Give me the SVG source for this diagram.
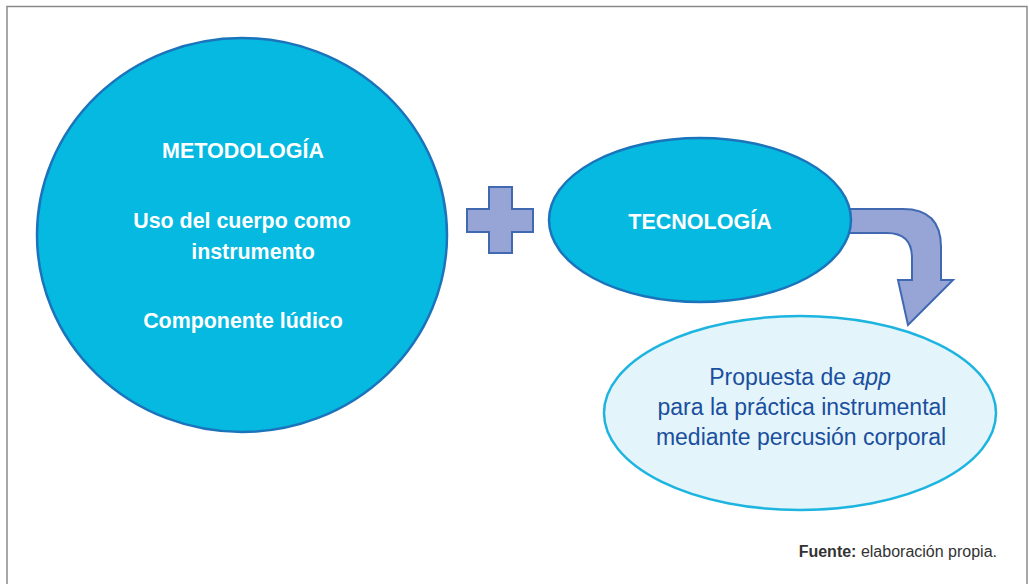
<svg xmlns="http://www.w3.org/2000/svg" width="1029" height="584" viewBox="0 0 1029 584">
<style>
.node{fill:#05b9e0;stroke:#1b74bb;stroke-width:2.5}
.wt{font-family:"Liberation Sans",Arial,sans-serif;font-weight:bold;fill:#ffffff;text-anchor:middle}
.bt{font-family:"Liberation Sans",Arial,sans-serif;fill:#1a4f9e;text-anchor:middle;font-size:23px}
.conn{fill:#97a5d6;stroke:#4169b2;stroke-width:2;stroke-linejoin:miter}
</style>
<rect x="7" y="6.5" width="1020" height="590" fill="#ffffff" stroke="#8a8a8a" stroke-width="1.5"/>
<g id="connectors">
<path class="conn" d="M467 209 H489 V187 H512 V209 H533 V232 H512 V253 H489 V232 H467 Z"/>
<path class="conn" d="M840 209 L903 209 Q941 209 941 247 L941 280 L953 280 L908 325 L898 280 L912 280 L912 258 Q912 233 887 233 L840 233 Z"/>
</g>
<g id="metodologia">
<ellipse class="node" cx="242" cy="235" rx="205" ry="197"/>
<text class="wt" x="243" y="158" font-size="21.5">METODOLOGÍA</text>
<text class="wt" x="242" y="228" font-size="21.4">Uso del cuerpo como</text>
<text class="wt" x="253" y="259" font-size="21.4">instrumento</text>
<text class="wt" x="243" y="328" font-size="21.4">Componente lúdico</text>
</g>
<g id="tecnologia">
<ellipse class="node" cx="700" cy="220" rx="151" ry="82"/>
<text class="wt" x="700" y="229" font-size="21.5">TECNOLOGÍA</text>
</g>
<g id="propuesta">
<ellipse cx="800" cy="413" rx="196" ry="97" fill="#e4f4fb" stroke="#1db5e0" stroke-width="2.5"/>
<text class="bt" x="800" y="385">Propuesta de <tspan font-style="italic">app</tspan></text>
<text class="bt" x="802" y="415">para la práctica instrumental</text>
<text class="bt" x="801" y="445">mediante percusión corporal</text>
</g>
<text x="997" y="557" font-family="Liberation Sans,Arial,sans-serif" font-size="16" fill="#333333" text-anchor="end"><tspan font-weight="bold">Fuente:</tspan> elaboración propia.</text>
</svg>
